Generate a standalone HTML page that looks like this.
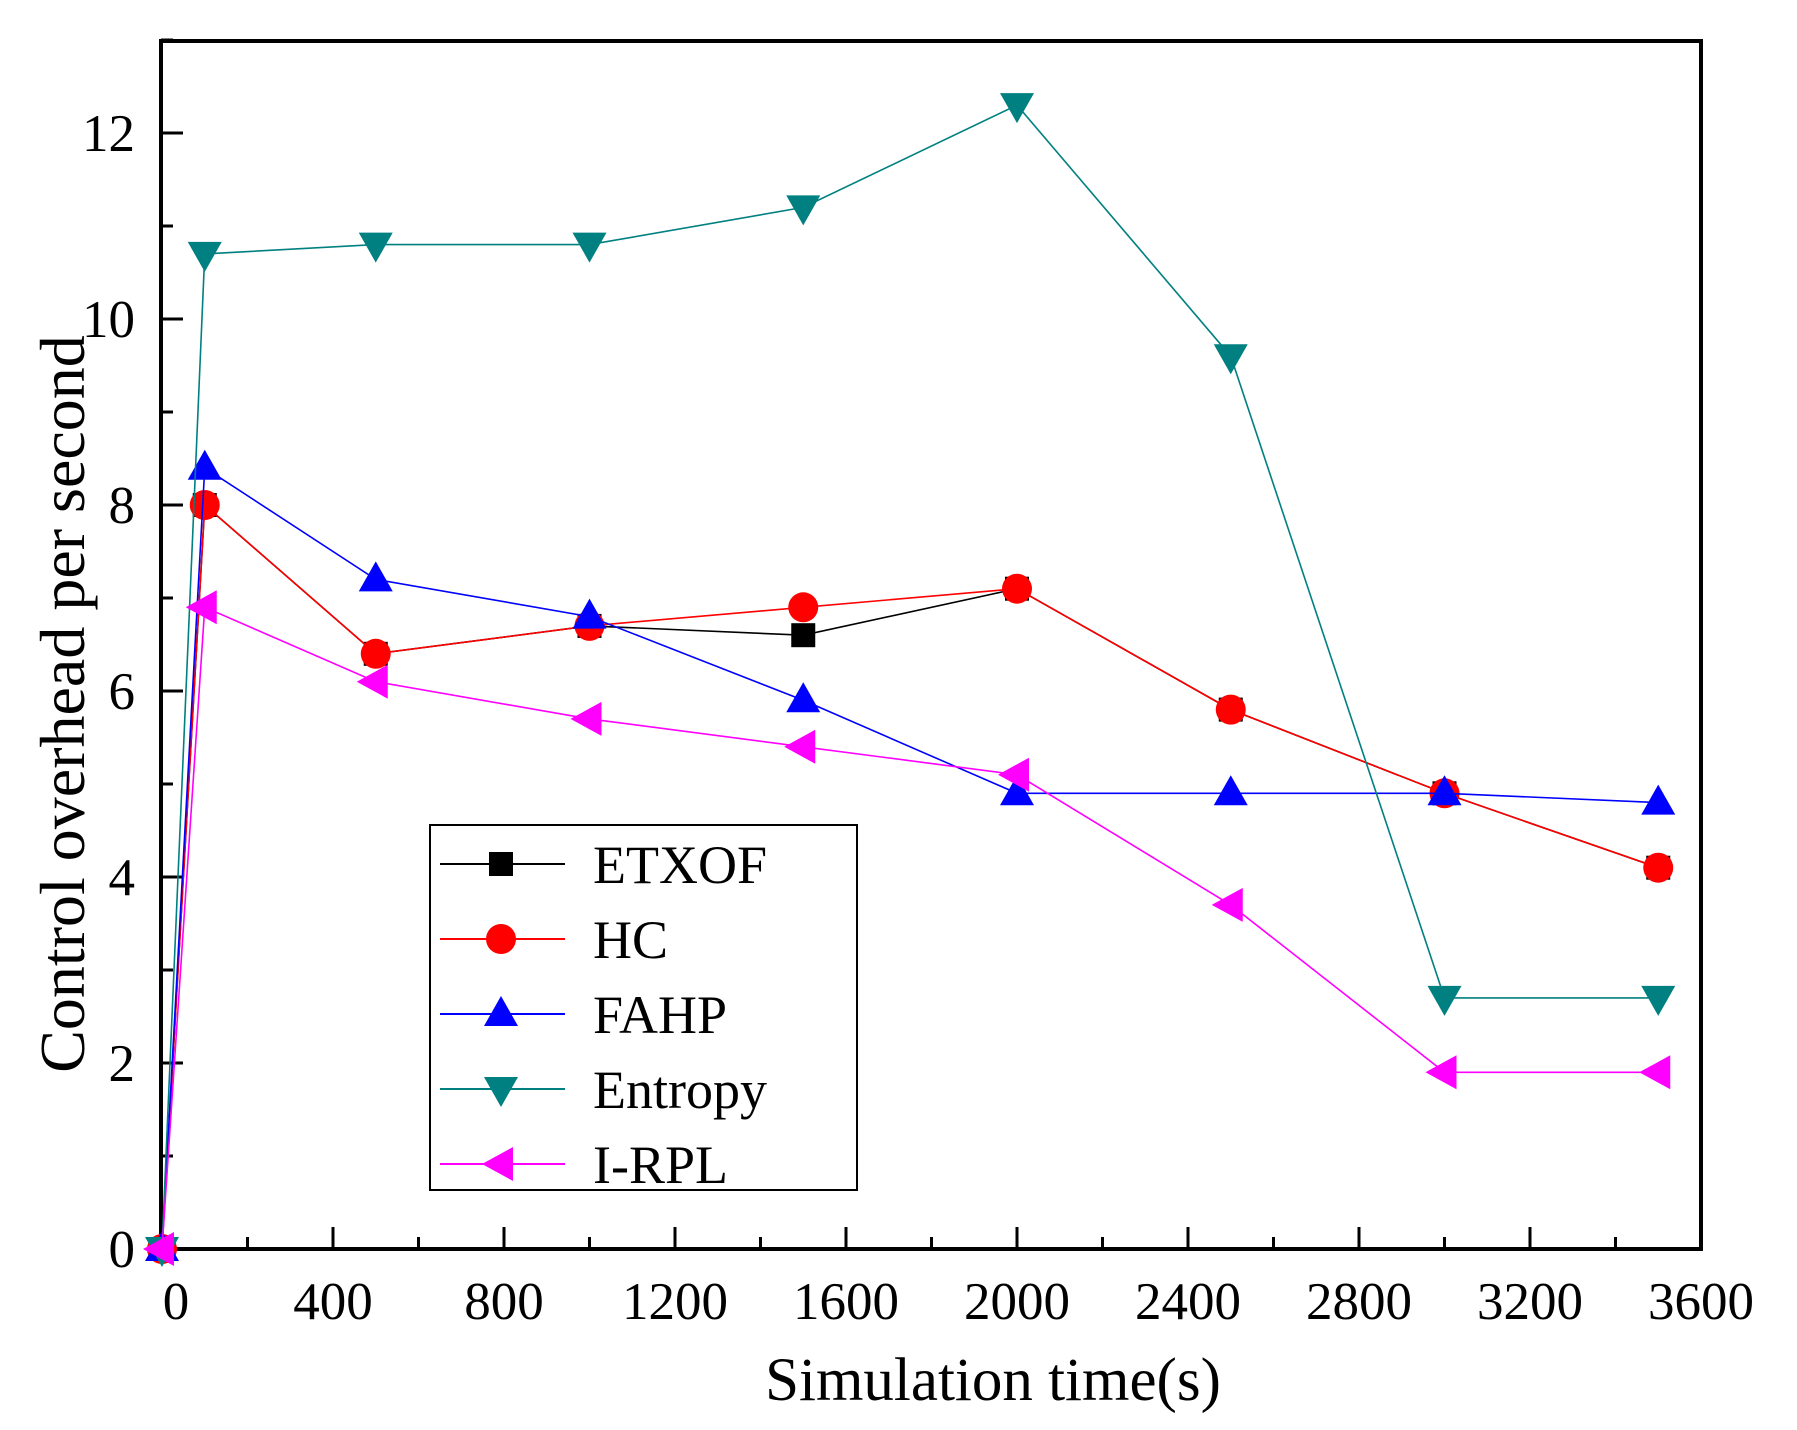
<!DOCTYPE html>
<html><head><meta charset="utf-8"><style>
html,body{margin:0;padding:0;background:#fff;}
svg{display:block;font-family:"Liberation Serif",serif;}
</style></head><body>
<svg id="chart" width="1797" height="1430" viewBox="0 0 1797 1430"></svg>
<script>
const xValues=[0,100,500,1000,1500,2000,2500,3000,3500];
const etxof=[0,8.0,6.4,6.7,6.6,7.1,5.8,4.9,4.1];
const hc=[0,8.0,6.4,6.7,6.9,7.1,5.8,4.9,4.1];
const fahp=[0,8.4,7.2,6.8,5.9,4.9,4.9,4.9,4.8];
const entropy=[0,10.7,10.8,10.8,11.2,12.3,9.6,2.7,2.7];
const irpl=[0,6.9,6.1,5.7,5.4,5.1,3.7,1.9,1.9];
const xTicks=[0,400,800,1200,1600,2000,2400,2800,3200,3600];
const yTicks=[0,2,4,6,8,10,12];
const seriesNames=["ETXOF","HC","FAHP","Entropy","I-RPL"];

const NS="http://www.w3.org/2000/svg";
const svg=document.getElementById('chart');
const L=161,R=1701,T=41,B=1249;
const X=v=>162+v*171/400;
const Y=v=>B-v*93;
function el(t,a,p){const e=document.createElementNS(NS,t);for(const k in a)e.setAttribute(k,a[k]);(p||svg).appendChild(e);return e;}

const box=el('rect',{x:L,y:T,width:R-L,height:B-T,fill:'none',stroke:'#000','stroke-width':4});



for(let v=0;v<=3600;v+=200){
  const major=v%400===0;
  const t=el('line',{x1:X(v),x2:X(v),y1:B,y2:B-(major?22:12),stroke:'#000','stroke-width':3});
  
  
}
xTicks.forEach(v=>{
  const t=el('text',{x:X(v)+(v===0?14:0),y:1319,'font-size':53,'text-anchor':'middle'});
  t.textContent=v;
  
  
});
for(let v=1;v<=13;v++){
  const major=v%2===0;
  const t=el('line',{x1:L,x2:L+(major?22:12),y1:Y(v),y2:Y(v),stroke:'#000','stroke-width':3});
  
  
}
yTicks.forEach(v=>{
  const t=el('text',{x:135,y:Y(v)+18,'font-size':53,'text-anchor':'end'});
  t.textContent=v;
  
  
});
const xt=el('text',{x:993,y:1400,'font-size':61,'text-anchor':'middle'});
xt.textContent='Simulation time(s)';


const yt=el('text',{x:0,y:0,'font-size':64,'text-anchor':'middle',transform:'translate(84,704) rotate(-90)'});
yt.textContent='Control overhead per second';



function marker(type,cx,cy,color,g){
  let m;
  if(type==='square') m=el('rect',{x:cx-12,y:cy-12,width:24,height:24,fill:color},g);
  else if(type==='circle') m=el('circle',{cx:cx,cy:cy,r:15,fill:color},g);
  else if(type==='up') m=el('polygon',{points:`${cx},${cy-18} ${cx-17},${cy+12} ${cx+17},${cy+12}`,fill:color},g);
  else if(type==='down') m=el('polygon',{points:`${cx},${cy+18} ${cx-17},${cy-12} ${cx+17},${cy-12}`,fill:color},g);
  else m=el('polygon',{points:`${cx-19},${cy} ${cx+12},${cy-17} ${cx+12},${cy+17}`,fill:color},g);
  
  
}
const series=[[etxof,'#000','square'],[hc,'#ff0000','circle'],[fahp,'#0000ff','up'],[entropy,'#008080','down'],[irpl,'#ff00ff','left']];
series.forEach((s,i)=>{
  const g=el('g',{});
  
  
  const pts=s[0].map((v,j)=>X(xValues[j])+','+Y(v)).join(' ');
  const pl=el('polyline',{points:pts,fill:'none',stroke:s[1],'stroke-width':1.6},g);
  
  
  s[0].forEach((v,j)=>marker(s[2],X(xValues[j]),Y(v),s[1],g));
});

const lg=el('g',{});


const lb=el('rect',{x:430,y:825,width:427,height:365,fill:'#fff',stroke:'#000','stroke-width':2},lg);


series.forEach((s,i)=>{
  const y=864+i*75;
  const g=el('g',{},lg);
  
  
  el('line',{x1:440,x2:565,y1:y,y2:y,stroke:s[1],'stroke-width':2},g);
  marker(s[2],501,y,s[1],g);
  const t=el('text',{x:593,y:y+19,'font-size':54},g);
  t.textContent=seriesNames[i];
  
  
});
</script>
</body></html>
